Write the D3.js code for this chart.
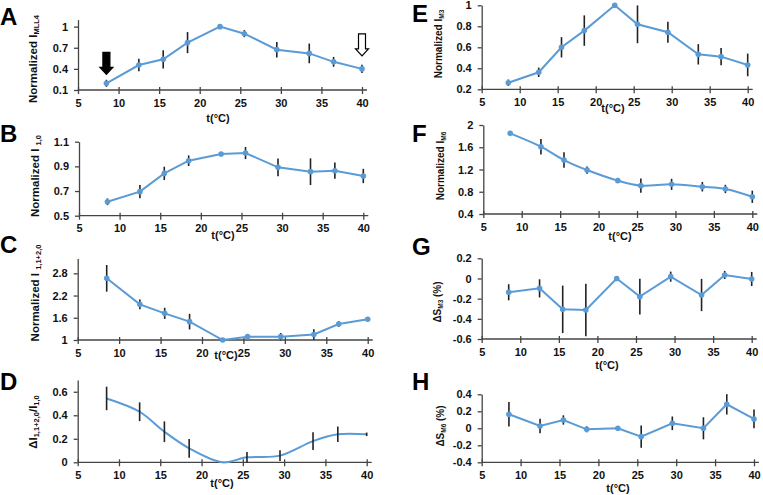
<!DOCTYPE html>
<html>
<head>
<meta charset="utf-8">
<script src="https://cdn.jsdelivr.net/npm/d3@7"></script>
<style>
  body { margin: 0; background: #fff; }
  svg { display: block; font-family: "Liberation Sans", Arial, sans-serif; font-weight: bold; }
</style>
</head>
<body>
<svg id="chart" width="763" height="495"></svg>
<script>
const temps = [8.5, 12.5, 15.5, 18.5, 22.5, 25.5, 29.5, 33.5, 36.5, 40];
const xTicks = [5, 10, 15, 20, 25, 30, 35, 40];

// A: normalized MLL4 intensity
const mll4 = [0.195, 0.455, 0.536, 0.773, 1.0, 0.90, 0.673, 0.62, 0.50, 0.40];
const mll4Err = [0.05, 0.09, 0.13, 0.15, 0, 0.05, 0.11, 0.14, 0.07, 0.06];
// B: normalized I 1,0
const i10 = [0.613, 0.695, 0.843, 0.946, 1.0, 1.008, 0.892, 0.857, 0.865, 0.822];
const i10Err = [0.027, 0.054, 0.054, 0.043, 0, 0.049, 0.072, 0.108, 0.066, 0.058];
// C: normalized I 1,1+2,0
const i1120 = [2.665, 1.963, 1.72, 1.495, 1.0, 1.09, 1.09, 1.15, 1.43, 1.56];
const i1120Err = [0.36, 0.13, 0.15, 0.21, 0, 0.05, 0.1, 0.14, 0.08, 0.03];
// D: delta I ratio
const dRatio = [0.543, 0.43, 0.26, 0.119, 0, 0.042, 0.057, 0.18, 0.238, 0.238];
const dRatioErr = [0.1, 0.08, 0.088, 0.08, 0, 0.045, 0.045, 0.075, 0.066, 0.015];
// E: normalized I M3
const m3 = [0.263, 0.362, 0.6, 0.759, 1.0, 0.819, 0.743, 0.533, 0.511, 0.432];
const m3Err = [0.03, 0.045, 0.097, 0.145, 0, 0.18, 0.1, 0.097, 0.083, 0.108];
// F: normalized I M6
const m6 = [1.85, 1.61, 1.37, 1.19, 1.0, 0.91, 0.933, 0.89, 0.85, 0.71];
const m6Err = [0.02, 0.14, 0.14, 0.065, 0, 0.13, 0.1, 0.085, 0.075, 0.11];
// G, H: spacing changes (%)
const dsM3 = [-0.137, -0.098, -0.306, -0.312, 0, -0.18, 0.018, -0.164, 0.035, -0.005];
const dsM3Err = [0.08, 0.09, 0.235, 0.26, 0, 0.177, 0.05, 0.16, 0.04, 0.07];
const dsM6 = [0.165, 0.027, 0.098, -0.012, 0, -0.098, 0.059, 0, 0.282, 0.11];
const dsM6Err = [0.143, 0.085, 0.055, 0.035, 0, 0.13, 0.08, 0.13, 0.12, 0.11];

const yTicksA = [0.1, 0.4, 0.7, 1];
const yTicksB = [0.5, 0.7, 0.9, 1.1];
const yTicksC = [1, 1.6, 2.2, 2.8];
const yTicksD = [0, 0.2, 0.4, 0.6];
const yTicksE = [0.2, 0.4, 0.6, 0.8, 1];
const yTicksF = [0.4, 0.8, 1.2, 1.6, 2];
const yTicksG = [-0.6, -0.4, -0.2, 0, 0.2];
const yTicksH = [-0.4, -0.2, 0, 0.2, 0.4];

const BLUE = '#5b9bd5';
const svg = d3.select('#chart');

// layout of each small chart (pixel boxes and label placement)
const panels = [
  { letter: 'A', lx: 0, ly: 25, values: mll4, errs: mll4Err, yDomain: [0.1, 1.1], yTicks: yTicksA,
    x: [78, 362], y: [90, 19.6], tx: 218, ty: 122, ylx: 33, yly: 59,
    ylabel: [['Normalized I', 0], ['MLL4', 1]], markers: true },
  { letter: 'B', lx: 0, ly: 142, values: i10, errs: i10Err, yDomain: [0.5, 1.1], yTicks: yTicksB,
    x: [79, 363.3], y: [215.7, 141.7], tx: 223, ty: 239, ylx: 35, yly: 176,
    ylabel: [['Normalized I ', 0], ['1,0', 1]], markers: true },
  { letter: 'C', lx: 0, ly: 253, values: i1120, errs: i1120Err, yDomain: [1, 3.2], yTicks: yTicksC,
    x: [77.7, 367.7], y: [340, 258.5], tx: 226, ty: 359, ylx: 35, yly: 293,
    ylabel: [['Normalized I ', 0], ['1,1+2,0', 1]], markers: true },
  { letter: 'D', lx: 0, ly: 390, values: dRatio, errs: dRatioErr, yDomain: [0, 0.7], yTicks: yTicksD,
    x: [77.7, 366.7], y: [462.3, 380], tx: 222, ty: 487, ylx: 33, yly: 422,
    ylabel: [['ΔI', 0], ['1,1+2,0', 1], ['/I', 0], ['1,0', 1]], markers: false, smooth: true },
  { letter: 'E', lx: 412, ly: 22, values: m3, errs: m3Err, yDomain: [0.2, 1], yTicks: yTicksE,
    x: [481.7, 747.7], y: [89.3, 5.3], tx: 613, ty: 112, ylx: 438, yly: 44,
    ylabel: [['Normalized I', 0], ['M3', 1]], markers: true, small: true },
  { letter: 'F', lx: 412, ly: 142, values: m6, errs: m6Err, yDomain: [0.4, 2], yTicks: yTicksF,
    x: [483.3, 752.3], y: [214, 125], tx: 620, ty: 240, ylx: 440, yly: 166,
    ylabel: [['Normalized I', 0], ['M6', 1]], markers: true, small: true, smooth: true },
  { letter: 'G', lx: 412, ly: 255, values: dsM3, errs: dsM3Err, yDomain: [-0.6, 0.2], yTicks: yTicksG,
    x: [481.7, 751.7], y: [339, 258.3], tx: 607, ty: 369, ylx: 437, yly: 302,
    ylabel: [['ΔS', 0], ['M3', 1], [' (%)', 0]], markers: true, small: true },
  { letter: 'H', lx: 412, ly: 390, values: dsM6, errs: dsM6Err, yDomain: [-0.4, 0.4], yTicks: yTicksH,
    x: [481.7, 754], y: [462.3, 394.3], tx: 618, ty: 492, ylx: 440, yly: 426,
    ylabel: [['ΔS', 0], ['M6', 1], [' (%)', 0]], markers: true, small: true }
];

panels.forEach(p => {
  const x = d3.scaleLinear().domain([5, 40]).range(p.x);
  const y = d3.scaleLinear().domain(p.yDomain).range(p.y);
  const g = svg.append('g');

  // panel letter
  svg.append('text')
    .attr('x', p.lx).attr('y', p.ly)
    .attr('font-size', 24)
    .attr('font-family', 'Arial, "Liberation Sans", sans-serif')
    .text(p.letter);

  // axes
  const xAxis = g.append('g')
    .attr('transform', `translate(0,${p.y[0]})`)
    .call(d3.axisBottom(x).tickValues(xTicks).tickSize(4).tickSizeOuter(0).tickPadding(5));
  xAxis.selectAll('.tick line').attr('y1', -3);
  const yAxis = g.append('g')
    .attr('transform', `translate(${p.x[0]},0)`)
    .call(d3.axisLeft(y).tickValues(p.yTicks).tickFormat(d => String(d)).tickSize(4).tickSizeOuter(0).tickPadding(6));
  [xAxis, yAxis].forEach(a => {
    a.select('.domain').attr('stroke', '#444').attr('stroke-width', 1.3);
    a.selectAll('.tick line').attr('stroke', '#444').attr('stroke-width', 1.3);
    a.selectAll('text').attr('font-size', 11).attr('font-weight', 'bold').attr('fill', '#111')
      .attr('font-family', '"Liberation Sans", Arial, sans-serif');
  });
  // extend x axis a little past 40, like the originals
  xAxis.select('.domain').attr('d', `M${p.x[0]},0H${p.x[1] + 5}`);

  // x title
  g.append('text')
    .attr('x', p.tx).attr('y', p.ty)
    .attr('text-anchor', 'middle')
    .attr('font-size', 11)
    .attr('fill', '#111')
    .text('t(°C)');

  // y title with subscripts
  const yl = g.append('text')
    .attr('transform', `translate(${p.ylx},${p.yly}) rotate(-90)`)
    .attr('text-anchor', 'middle')
    .attr('dy', '0.35em')
    .attr('font-size', p.small ? 10 : 11.5)
    .attr('fill', '#111');
  p.ylabel.forEach(([txt, sub]) => {
    yl.append('tspan')
      .attr('font-size', sub ? (p.small ? 6.5 : 7.5) : null)
      .attr('baseline-shift', sub ? '-25%' : null)
      .text(txt);
  });

  const pts = temps.map((t, i) => ({ t, v: p.values[i], e: p.errs[i] }));

  // line
  const line = d3.line()
    .x(d => x(d.t)).y(d => y(d.v))
    .curve(p.smooth ? d3.curveCatmullRom.alpha(0.5) : d3.curveLinear);
  g.append('path')
    .datum(pts)
    .attr('d', line)
    .attr('fill', 'none')
    .attr('stroke', BLUE)
    .attr('stroke-width', 2);

  // error bars
  g.selectAll('line.err')
    .data(pts.filter(d => d.e > 0))
    .join('line')
    .attr('class', 'err')
    .attr('x1', d => x(d.t)).attr('x2', d => x(d.t))
    .attr('y1', d => y(d.v - d.e)).attr('y2', d => y(d.v + d.e))
    .attr('stroke', '#222')
    .attr('stroke-width', 1.6);

  if (p.markers) {
    g.selectAll('circle.pt')
      .data(pts)
      .join('circle')
      .attr('class', 'pt')
      .attr('cx', d => x(d.t)).attr('cy', d => y(d.v))
      .attr('r', 2.8)
      .attr('fill', BLUE);
  }

  // arrows marking the lowest and highest temperatures in A
  if (p.letter === 'A') {
    const arrow = (cx, tipY, fill) => {
      const shaftTop = tipY - 22, headTop = tipY - 7;
      g.append('path')
        .attr('d', `M${cx - 3.5},${shaftTop}H${cx + 3.5}V${headTop}H${cx + 6.5}L${cx},${tipY}L${cx - 6.5},${headTop}H${cx - 3.5}Z`)
        .attr('fill', fill)
        .attr('stroke', '#000')
        .attr('stroke-width', 1.2);
    };
    arrow(x(temps[0]), y(mll4[0]) - 9, '#000');
    arrow(x(temps[9]), y(mll4[9]) - 13, '#fff');
  }
});
</script>
</body>
</html>
